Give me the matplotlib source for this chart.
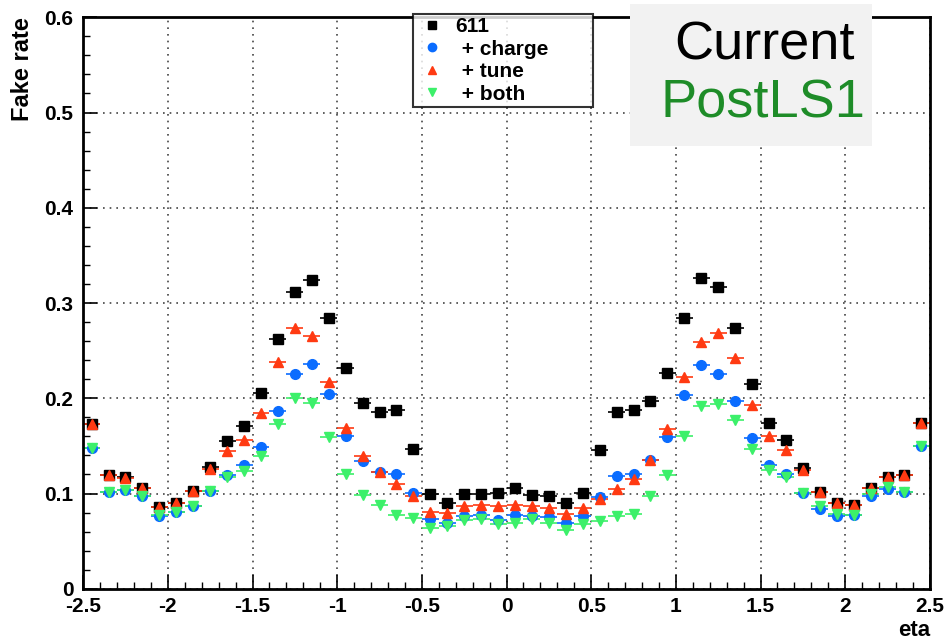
import numpy as np
import matplotlib.pyplot as plt
from matplotlib.lines import Line2D
from matplotlib.ticker import MultipleLocator

eta = np.round(np.arange(-2.45, 2.5, 0.1), 2)

rate_611 = [0.173, 0.119, 0.117, 0.106, 0.086, 0.090, 0.103, 0.128, 0.155, 0.171,
            0.206, 0.262, 0.312, 0.324, 0.284, 0.232, 0.195, 0.186, 0.188, 0.147,
            0.099, 0.090, 0.099, 0.100, 0.101, 0.106, 0.098, 0.097, 0.090, 0.101,
            0.146, 0.186, 0.188, 0.197, 0.227, 0.284, 0.326, 0.317, 0.274, 0.215,
            0.174, 0.156, 0.127, 0.102, 0.090, 0.088, 0.106, 0.117, 0.119, 0.174]
rate_charge = [0.148, 0.102, 0.104, 0.097, 0.076, 0.081, 0.087, 0.103, 0.119, 0.130,
               0.149, 0.187, 0.226, 0.236, 0.204, 0.160, 0.134, 0.123, 0.120, 0.101,
               0.073, 0.069, 0.076, 0.078, 0.072, 0.077, 0.076, 0.075, 0.069, 0.076,
               0.096, 0.118, 0.121, 0.135, 0.159, 0.203, 0.235, 0.225, 0.197, 0.158,
               0.130, 0.120, 0.101, 0.084, 0.076, 0.077, 0.097, 0.105, 0.102, 0.150]
rate_tune = [0.173, 0.119, 0.116, 0.106, 0.086, 0.090, 0.103, 0.126, 0.145, 0.156,
             0.185, 0.238, 0.274, 0.265, 0.217, 0.169, 0.139, 0.123, 0.110, 0.097,
             0.081, 0.080, 0.087, 0.088, 0.087, 0.088, 0.087, 0.085, 0.079, 0.085,
             0.094, 0.105, 0.115, 0.135, 0.168, 0.222, 0.259, 0.269, 0.242, 0.193,
             0.160, 0.146, 0.125, 0.102, 0.090, 0.088, 0.106, 0.117, 0.119, 0.174]
rate_both = [0.148, 0.102, 0.104, 0.097, 0.078, 0.081, 0.087, 0.103, 0.117, 0.124,
             0.139, 0.173, 0.200, 0.195, 0.159, 0.120, 0.098, 0.088, 0.078, 0.074,
             0.064, 0.066, 0.072, 0.073, 0.068, 0.069, 0.073, 0.069, 0.062, 0.068,
             0.071, 0.076, 0.079, 0.097, 0.119, 0.160, 0.192, 0.194, 0.177, 0.147,
             0.125, 0.117, 0.101, 0.087, 0.079, 0.077, 0.099, 0.107, 0.102, 0.150]

labels = ["611", " + charge", " + tune", " + both"]
series = [rate_611, rate_charge, rate_tune, rate_both]
colors = ["black", "#0a6cff", "#ff3a12", "#3cf06a"]
markers = ["s", "o", "^", "v"]

plt.rcParams['font.family'] = ['Liberation Sans', 'DejaVu Sans']
plt.rcParams['font.weight'] = 'bold'

fig = plt.figure(figsize=(9.45, 6.4), dpi=100)
ax = fig.add_axes([0.088, 0.080, 0.896, 0.893])

for vals, col, mk in zip(series, colors, markers):
    ax.errorbar(eta, vals, xerr=0.05, yerr=0.003, fmt=mk, color=col, ecolor=col,
                markersize=7, elinewidth=1.2, capsize=0)

ax.set_xlim(-2.5, 2.5)
ax.set_ylim(0, 0.6)
ax.xaxis.set_minor_locator(MultipleLocator(0.1))
ax.yaxis.set_minor_locator(MultipleLocator(0.02))
ax.set_xticks(np.arange(-2.5, 2.51, 0.5))
ax.set_xticklabels(["-2.5", "-2", "-1.5", "-1", "-0.5", "0", "0.5", "1", "1.5", "2", "2.5"])
ax.set_yticks(np.arange(0, 0.61, 0.1))
ax.set_yticklabels(["0", "0.1", "0.2", "0.3", "0.4", "0.5", "0.6"])
ax.tick_params(which='major', direction='in', length=10, width=1.2, labelsize=15)
ax.tick_params(axis='x', which='major', pad=6)
ax.tick_params(axis='y', which='major', pad=7)
ax.tick_params(which='minor', direction='in', length=5, width=1)
ax.grid(True, which='major', linestyle=(0, (1, 3)), color='#444444', linewidth=1.2)
for sp in ax.spines.values():
    sp.set_linewidth(2)

ax.text(1.0, -0.055, "eta", transform=ax.transAxes, ha='right', va='top', fontsize=16, fontweight='bold')
ax.text(-0.072, 1.0, "Fake rate", transform=ax.transAxes, ha='center', va='top',
        rotation=90, fontsize=17, fontweight='bold')

handles = [Line2D([], [], marker=mk, color=col, linestyle='none', markersize=6)
           for col, mk in zip(colors, markers)]
leg = fig.legend(handles=handles, labels=labels, loc='upper left',
                 bbox_to_anchor=(413 / 945, 1 - 105 / 640, 180 / 945, 91 / 640),
                 bbox_transform=fig.transFigure, mode='expand', borderaxespad=0,
                 frameon=True, fancybox=False, fontsize=15, handlelength=1.5,
                 handletextpad=0.4, borderpad=0.15, labelspacing=0.17)
leg.get_frame().set_edgecolor('black')
leg.get_frame().set_linewidth(1.5)

fig.patches.append(plt.Rectangle((630 / 945, 1 - 146 / 640), 242 / 945, 142 / 640,
                                 transform=fig.transFigure, facecolor='#f2f2f2',
                                 edgecolor='none', zorder=5))
fig.text(765 / 945, 1 - 45 / 640, "Current", ha='center', va='center', fontsize=39,
         color='black', fontweight='normal', zorder=6)
fig.text(763 / 945, 1 - 103 / 640, "PostLS1", ha='center', va='center', fontsize=39,
         color='#1e8c28', fontweight='normal', zorder=6)

fig.savefig("out.png", dpi=100)
